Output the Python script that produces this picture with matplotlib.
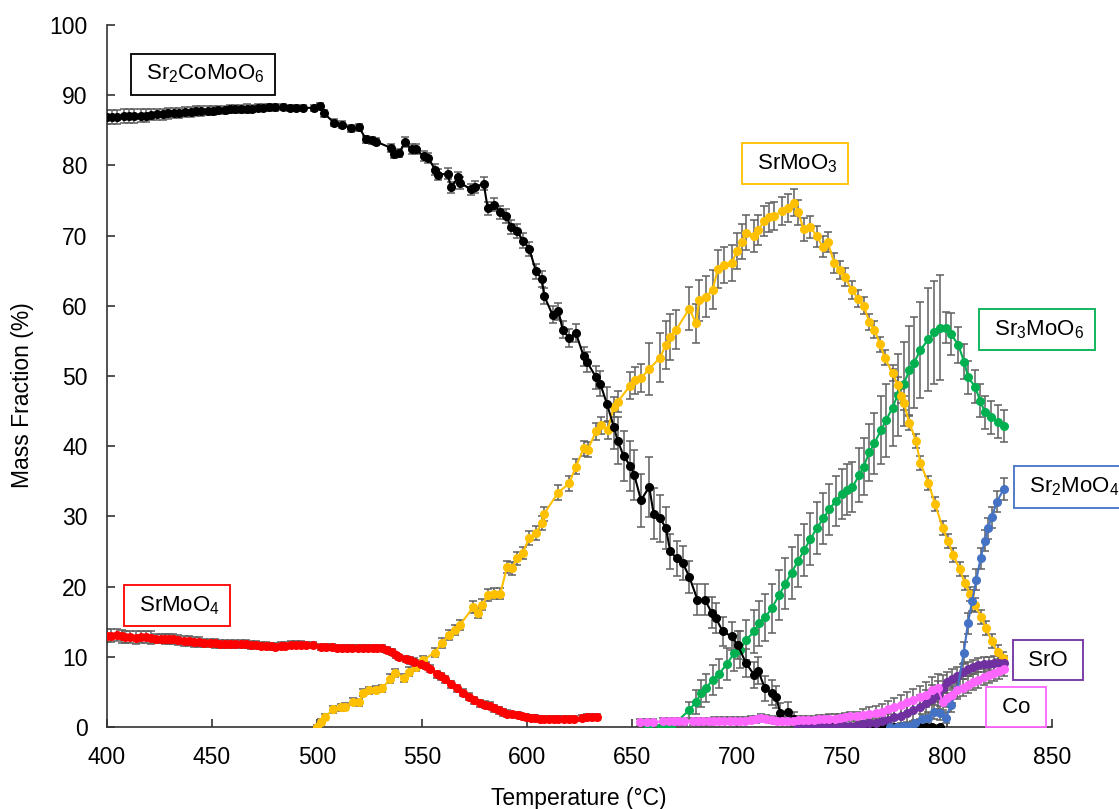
import matplotlib
matplotlib.use('Agg')
import matplotlib.pyplot as plt

plt.rcParams['font.family'] = ['Liberation Sans', 'DejaVu Sans']
plt.rcParams['mathtext.default'] = 'regular'

# Sr2CoMoO6 phase fraction vs temperature
black_T = [400.0, 402.5, 405.0, 408.0, 410.5, 413.0, 416.0, 418.5, 421.0, 424.0,
           426.5, 429.0, 432.0, 434.5, 437.0, 440.0, 442.5, 445.0, 448.0, 450.5,
           453.0, 456.0, 458.5, 461.0, 464.0, 466.5, 469.0, 472.0, 474.5, 477.0,
           480.0, 484.0, 487.0, 490.0, 493.5, 498.5, 501.5, 503.5, 508.0, 512.0,
           516.0, 520.0, 523.5, 526.0, 528.0, 535.2, 536.5, 539.2, 541.9, 545.1,
           547.1, 550.8, 553.0, 556.2, 557.8, 562.2, 563.8, 567.3, 568.2, 573.3,
           575.2, 579.4, 581.3, 584.4, 587.3, 590.0, 592.4, 595.1, 598.2, 601.1,
           604.3, 607.1, 608.2, 612.2, 615.0, 617.0, 620.1, 623.3, 627.0, 628.6,
           632.9, 634.9, 638.1, 641.3, 643.2, 646.0, 649.2, 651.1, 654.3, 658.2,
           660.3, 663.5, 666.2, 668.2, 671.4, 674.1, 677.3, 681.2, 684.8, 687.9,
           690.0, 693.2, 697.5, 700.3, 704.3, 708.2, 710.1, 713.3, 716.5, 718.6,
           720.6, 724.1, 727.3, 730.0, 733.0, 736.0, 739.0, 742.0, 745.0, 748.0,
           751.0, 754.0, 757.0, 760.0, 763.0, 766.0, 769.0, 772.0, 775.0, 778.0,
           781.0, 784.0, 787.0, 790.0, 793.0, 796.5]
black_V = [86.9, 86.9, 86.9, 87.0, 87.0, 87.0, 87.1, 87.1, 87.2, 87.3,
           87.3, 87.4, 87.5, 87.5, 87.6, 87.6, 87.7, 87.7, 87.8, 87.8,
           87.9, 87.9, 88.0, 88.0, 88.0, 88.1, 88.1, 88.2, 88.2, 88.3,
           88.3, 88.3, 88.2, 88.2, 88.2, 88.2, 88.5, 87.4, 86.1, 85.8,
           85.3, 85.4, 83.7, 83.6, 83.4, 82.5, 81.6, 81.8, 83.3, 82.3,
           82.3, 81.3, 81.1, 79.4, 78.7, 78.8, 76.9, 78.3, 77.5, 76.6,
           76.9, 77.4, 73.9, 74.4, 73.3, 72.8, 71.2, 70.6, 69.3, 68.1,
           64.9, 63.8, 61.4, 58.7, 59.2, 56.6, 55.4, 56.1, 52.8, 52.0,
           49.8, 48.9, 46.0, 42.8, 40.8, 38.6, 37.2, 35.9, 32.3, 34.2,
           30.4, 29.7, 28.3, 25.0, 24.0, 23.4, 21.4, 18.1, 18.1, 16.3,
           15.5, 13.6, 12.9, 11.7, 9.1, 7.4, 8.0, 5.5, 4.9, 4.3,
           2.0, 2.2, 1.2, 0.3, 0.0, 0.0, 0.0, 0.0, 0.0, 0.0,
           0.0, 0.0, 0.0, 0.0, 0.0, 0.0, 0.0, 0.0, 0.0, 0.0,
           0.0, 0.0, 0.0, 0.0, 0.0, 0.0]
black_E = [1.0, 1.0, 1.0, 1.0, 1.0, 1.0, 0.9, 0.9, 0.8, 0.8,
           0.8, 0.8, 0.7, 0.7, 0.7, 0.7, 0.7, 0.7, 0.6, 0.6,
           0.6, 0.6, 0.6, 0.6, 0.6, 0.6, 0.5, 0.5, 0.5, 0.5,
           0.5, 0.4, 0.4, 0.4, 0.4, 0.4, 0.4, 0.5, 0.5, 0.5,
           0.5, 0.5, 0.5, 0.5, 0.5, 0.6, 0.6, 0.6, 0.7, 0.7,
           0.7, 0.7, 0.7, 0.8, 0.8, 0.8, 0.8, 0.8, 0.8, 0.8,
           0.9, 0.9, 0.9, 0.9, 0.9, 1.0, 1.0, 1.0, 1.0, 1.0,
           1.1, 1.1, 1.1, 1.2, 1.2, 1.2, 1.3, 1.3, 1.4, 1.4,
           1.6, 1.8, 2.5, 3.2, 3.4, 3.5, 3.6, 3.6, 3.8, 4.3,
           3.6, 3.3, 3.0, 2.5, 2.5, 2.4, 2.3, 2.2, 2.2, 2.2,
           2.1, 2.1, 2.0, 2.0, 2.0, 1.9, 1.9, 1.8, 1.8, 1.6,
           1.4, 1.3, 1.0, 0.5, 0.3, 0.3, 0.3, 0.3, 0.3, 0.3,
           0.3, 0.3, 0.3, 0.3, 0.3, 0.3, 0.3, 0.3, 0.3, 0.3,
           0.3, 0.3, 0.3, 0.3, 0.3, 0.3]

# SrMoO4
red_T = [400.0, 402.0, 404.8, 407.0, 408.7, 411.0, 413.6, 416.0, 418.5, 421.0,
         423.4, 425.5, 427.5, 429.5, 431.6, 434.0, 436.6, 439.0, 441.5, 444.0,
         446.4, 449.0, 451.3, 453.8, 456.2, 458.6, 461.1, 463.6, 466.1, 468.5,
         471.0, 473.5, 475.9, 478.0, 480.0, 483.0, 484.9, 487.4, 489.8, 492.3,
         494.8, 498.0, 502.1, 504.5, 507.0, 509.5, 512.0, 514.5, 516.9, 519.3,
         521.8, 524.3, 526.7, 528.8, 530.8, 533.5, 535.7, 537.5, 539.0, 542.3,
         544.5, 546.4, 549.7, 551.8, 553.8, 557.0, 559.0, 561.1, 564.0, 566.9,
         569.5, 572.6, 575.0, 577.5, 580.0, 582.5, 584.5, 586.6, 588.5, 590.7,
         593.0, 595.6, 597.5, 599.7, 601.8, 603.8, 606.0, 607.9, 610.5, 612.8,
         615.0, 617.7, 620.0, 622.6, 626.0, 628.4, 631.0, 633.3]
red_V = [13.0, 13.0, 13.1, 12.9, 12.8, 12.8, 12.7, 12.8, 12.8, 12.7,
         12.6, 12.6, 12.5, 12.5, 12.5, 12.4, 12.3, 12.2, 12.1, 12.1,
         12.0, 12.0, 11.9, 11.8, 11.8, 11.8, 11.8, 11.8, 11.8, 11.7,
         11.7, 11.6, 11.6, 11.5, 11.4, 11.6, 11.6, 11.7, 11.7, 11.7,
         11.7, 11.7, 11.4, 11.4, 11.4, 11.3, 11.3, 11.3, 11.3, 11.3,
         11.3, 11.3, 11.3, 11.3, 11.3, 11.0, 10.7, 10.2, 9.9, 9.7,
         9.5, 9.3, 9.0, 8.7, 8.3, 7.5, 7.2, 6.8, 6.1, 5.5,
         4.9, 4.3, 3.8, 3.4, 3.2, 3.0, 2.7, 2.4, 2.1, 1.9,
         1.8, 1.7, 1.5, 1.4, 1.3, 1.3, 1.2, 1.2, 1.2, 1.2,
         1.2, 1.2, 1.2, 1.2, 1.3, 1.4, 1.4, 1.4]
red_E = ([0.9] * 10 + [0.7] * 10 + [0.6] * 10 + [0.5] * 10 + [0.4] * 10
         + [0.4] * 10 + [0.5] * 10 + [0.5] * 10 + [0.4] * 10 + [0.4] * 8)

# SrMoO3
yel_T = [500.0, 502.0, 504.0, 507.5, 511.5, 513.5, 517.0, 520.0, 522.0, 525.0,
         528.0, 531.0, 535.0, 537.0, 541.5, 544.0, 547.0, 550.5, 556.0, 559.5,
         563.0, 565.5, 568.0, 574.5, 576.5, 578.8, 581.3, 584.4, 587.3, 590.5,
         592.7, 595.2, 597.9, 601.1, 604.3, 607.0, 608.2, 614.9, 620.1, 623.3,
         627.0, 628.9, 632.9, 635.2, 638.4, 641.3, 643.2, 649.0, 651.3, 654.3,
         658.2, 663.4, 666.0, 668.2, 671.1, 677.3, 680.5, 682.0, 685.2, 688.4,
         691.0, 693.7, 697.5, 700.0, 702.2, 704.3, 708.2, 710.1, 713.0, 715.3,
         717.8, 721.3, 724.1, 727.3, 729.2, 731.7, 734.9, 738.1, 740.8, 743.2,
         746.3, 749.2, 751.4, 754.6, 757.8, 760.3, 763.0, 765.4, 768.2, 770.3,
         774.1, 776.5, 778.1, 779.4, 782.1, 785.2, 787.3, 791.1, 794.3, 798.0,
         800.5, 803.0, 806.0, 808.5, 811.0, 813.3, 816.2, 818.6, 821.3, 824.1,
         826.5]
yel_V = [0.0, 0.7, 1.4, 2.5, 2.8, 2.9, 3.6, 3.5, 4.9, 5.2,
         5.3, 5.5, 6.9, 7.7, 7.0, 7.9, 8.6, 9.5, 10.6, 12.0,
         13.1, 13.8, 14.5, 17.1, 16.3, 17.4, 18.8, 19.0, 19.0, 22.8,
         22.6, 24.0, 24.8, 26.9, 27.6, 29.0, 30.4, 33.4, 34.7, 37.1,
         39.7, 39.5, 42.1, 43.0, 42.3, 45.6, 46.3, 48.6, 49.4, 49.7,
         51.0, 52.6, 54.4, 55.6, 56.6, 59.6, 57.5, 60.8, 61.3, 62.3,
         65.3, 65.8, 66.1, 67.8, 69.1, 70.4, 69.9, 70.8, 72.1, 72.6,
         72.8, 73.5, 73.9, 74.7, 73.3, 70.9, 71.2, 69.9, 68.4, 69.1,
         66.1, 65.1, 64.1, 62.3, 61.0, 60.0, 57.7, 56.6, 54.5, 52.6,
         50.4, 48.7, 47.1, 46.2, 43.3, 40.8, 37.6, 34.8, 31.8, 28.3,
         26.5, 24.5, 22.5, 20.5, 19.0, 17.4, 15.7, 14.1, 12.2, 10.7,
         9.8]
yel_E = [0.3, 0.4, 0.4, 0.5, 0.5, 0.5, 0.5, 0.5, 0.5, 0.5,
         0.5, 0.5, 0.6, 0.6, 0.6, 0.6, 0.6, 0.6, 0.6, 0.7,
         0.7, 0.7, 0.7, 0.8, 0.8, 0.8, 0.8, 0.8, 0.8, 0.9,
         0.9, 0.9, 0.9, 1.0, 1.0, 1.0, 1.0, 1.0, 1.1, 1.1,
         1.1, 1.1, 1.2, 1.2, 1.3, 1.4, 1.5, 1.9, 1.9, 2.0,
         3.7, 3.5, 3.4, 3.3, 2.8, 3.1, 2.8, 2.9, 2.9, 2.8,
         2.7, 2.6, 2.6, 2.6, 2.5, 2.5, 2.3, 2.2, 2.1, 2.1,
         2.0, 2.0, 2.0, 1.9, 1.8, 1.6, 1.6, 1.5, 1.5, 1.4,
         1.4, 1.3, 1.3, 1.3, 1.2, 1.2, 1.2, 1.2, 1.1, 1.1,
         1.1, 1.1, 1.0, 1.0, 1.0, 1.0, 1.0, 1.0, 1.0, 1.0,
         1.0, 1.0, 1.0, 1.0, 1.0, 1.0, 1.0, 1.0, 1.0, 1.0,
         0.9]

# Sr3MoO6
grn_T = [657.4, 663.7, 666.1, 668.5, 677.3, 680.5, 682.9, 685.2, 688.4, 691.6,
         695.2, 698.7, 701.6, 704.3, 708.2, 710.6, 713.3, 716.5, 720.1, 723.0,
         726.0, 729.0, 732.0, 735.0, 738.0, 741.0, 744.0, 747.0, 750.0, 752.5,
         755.0, 758.3, 760.3, 763.0, 765.4, 768.6, 771.0, 774.1, 776.5, 779.4,
         782.1, 784.4, 787.3, 791.1, 794.0, 796.8, 799.5, 801.9, 805.4, 808.2,
         810.1, 813.3, 815.8, 818.1, 821.0, 824.1, 827.0]
grn_V = [0.0, 0.0, 0.0, 0.0, 2.4, 3.6, 4.8, 5.5, 6.7, 7.6,
         9.0, 10.5, 11.0, 12.4, 13.6, 14.8, 15.6, 16.9, 18.8, 20.4,
         22.0, 23.6, 25.2, 26.8, 28.3, 29.7, 31.0, 32.2, 33.2, 33.8,
         34.2, 35.9, 37.1, 39.1, 40.4, 42.3, 43.7, 45.5, 47.3, 48.9,
         50.8, 51.9, 53.7, 55.2, 56.2, 56.9, 56.9, 56.0, 54.4, 52.0,
         49.8, 48.5, 46.5, 44.8, 44.1, 43.5, 42.9]
grn_E = [0.3, 0.3, 0.3, 0.3, 1.2, 1.7, 1.9, 2.0, 2.1, 2.1,
         2.3, 2.5, 2.6, 2.8, 3.0, 3.2, 3.3, 3.5, 3.6, 3.6,
         3.7, 3.7, 3.7, 3.7, 3.7, 3.6, 3.6, 3.6, 3.6, 3.6,
         3.6, 3.8, 4.0, 4.0, 4.3, 4.8, 5.2, 5.5, 5.8, 6.0,
         6.3, 6.5, 6.9, 7.3, 7.4, 7.5, 2.2, 3.0, 2.6, 2.5,
         2.4, 2.4, 2.3, 2.3, 2.3, 2.3, 2.3]

# Sr2MoO4
blu_T = [773.0, 776.0, 779.0, 782.0, 785.0, 788.0, 791.0, 794.0, 796.5, 799.5,
         802.0, 805.0, 808.0, 810.0, 812.0, 814.0, 816.0, 818.0, 819.5, 821.3,
         823.8, 827.0]
blu_V = [0.0, 0.0, 0.1, 0.2, 0.5, 1.1, 1.3, 2.2, 2.0, 1.3,
         3.2, 5.4, 10.6, 14.8, 18.0, 21.0, 24.0, 26.5, 28.3, 29.9,
         32.1, 33.9]
blu_E = [0.3, 0.3, 0.3, 0.4, 0.5, 0.7, 0.8, 1.0, 1.0, 0.8,
         1.0, 1.2, 1.5, 1.5, 1.5, 1.5, 1.5, 1.5, 1.5, 1.5,
         1.5, 1.5]

# SrO
pur_T = [729.0, 731.5, 734.0, 736.5, 739.0, 741.5, 744.0, 746.5, 749.0, 751.5,
         754.0, 757.0, 760.0, 763.0, 766.0, 769.0, 772.0, 775.0, 778.0, 781.0,
         784.0, 787.0, 790.0, 793.0, 795.5, 798.0, 800.0, 802.5, 805.0, 807.5,
         810.0, 812.5, 815.0, 817.5, 820.0, 822.5, 825.0, 827.3]
pur_V = [0.0, 0.0, 0.0, 0.0, 0.0, 0.0, 0.0, 0.0, 0.1, 0.1,
         0.1, 0.3, 0.4, 0.5, 0.6, 0.8, 1.0, 1.4, 1.6, 2.0,
         2.4, 2.9, 3.4, 4.0, 4.6, 5.6, 6.4, 6.9, 7.3, 7.9,
         8.3, 8.6, 8.8, 8.9, 9.0, 9.1, 9.1, 9.1]
pur_E = [0.3, 0.3, 0.3, 0.3, 0.3, 0.3, 0.3, 0.3, 0.3, 0.3,
         0.3, 0.4, 0.5, 0.6, 0.7, 0.8, 0.9, 1.0, 1.1, 1.3,
         1.5, 1.7, 1.9, 2.0, 2.0, 1.8, 1.5, 1.3, 1.2, 1.1,
         1.0, 1.0, 1.0, 1.0, 1.0, 1.0, 1.0, 1.0]

# Co
mag_T = [654.0, 657.0, 660.0, 665.0, 667.5, 670.0, 672.5, 675.0, 679.0, 681.5,
         684.0, 686.5, 689.0, 691.5, 694.0, 696.5, 699.0, 701.5, 704.0, 706.5,
         709.0, 711.5, 714.0, 716.5, 719.0, 721.5, 724.0, 726.5, 729.0, 731.5,
         734.0, 736.5, 739.0, 741.5, 744.0, 746.5, 749.0, 751.5, 754.0, 757.0,
         760.0, 763.0, 766.0, 769.0, 772.0, 775.0, 778.0, 781.0, 784.0, 787.0,
         790.0, 793.0, 795.5, 798.0, 800.0, 802.5, 805.0, 807.5, 810.0, 812.5,
         815.0, 817.5, 820.0, 822.5, 825.0, 827.3]
mag_V = [0.7, 0.7, 0.7, 0.8, 0.8, 0.8, 0.8, 0.8, 0.8, 0.8,
         0.8, 0.8, 0.9, 0.9, 0.9, 0.9, 0.9, 0.9, 0.9, 1.0,
         1.1, 1.3, 1.2, 1.0, 0.9, 0.9, 0.9, 0.9, 1.0, 1.0,
         1.0, 1.0, 1.1, 1.1, 1.2, 1.2, 1.3, 1.4, 1.5, 1.6,
         1.7, 1.9, 2.0, 2.2, 2.5, 2.8, 3.1, 3.5, 3.8, 4.2,
         4.6, 5.2, 5.5, 3.6, 4.1, 4.6, 5.2, 5.6, 6.0, 6.4,
         6.7, 7.1, 7.4, 7.7, 8.0, 8.3]
mag_E = [0.5, 0.5, 0.5, 0.5, 0.5, 0.5, 0.5, 0.5, 0.5, 0.5,
         0.5, 0.5, 0.5, 0.5, 0.5, 0.5, 0.5, 0.5, 0.5, 0.5,
         0.5, 0.5, 0.5, 0.5, 0.5, 0.5, 0.5, 0.5, 0.5, 0.5,
         0.6, 0.6, 0.6, 0.6, 0.6, 0.6, 0.6, 0.6, 0.6, 0.6,
         0.8, 0.9, 1.0, 1.1, 1.2, 1.3, 1.4, 1.5, 1.6, 1.7,
         1.8, 1.9, 2.0, 1.2, 1.2, 1.2, 1.2, 1.2, 1.2, 1.2,
         1.1, 1.1, 1.1, 1.1, 1.1, 1.1]

series = [
    (grn_T, grn_V, grn_E, '#00B050'),
    (yel_T, yel_V, yel_E, '#FFC000'),
    (black_T, black_V, black_E, '#000000'),
    (red_T, red_V, red_E, '#FF0000'),
    (pur_T, pur_V, pur_E, '#7030A0'),
    (blu_T, blu_V, blu_E, '#4472C4'),
    (mag_T, mag_V, mag_E, '#FF66FF'),
]

# phase labels: text, x, y, edge colour
labels = [
    (r' Sr$_2$CoMoO$_6$ ', 445.7, 93.0, '#000000'),
    (r' SrMoO$_4$ ', 433.3, 17.3, '#FF0000'),
    (r' SrMoO$_3$ ', 727.6, 80.3, '#FFC000'),
    (r' Sr$_3$MoO$_6$ ', 842.9, 56.6, '#00B050'),
    (r' Sr$_2$MoO$_4$ ', 859.5, 34.2, '#4472C4'),
    (r' SrO ', 848.1, 9.5, '#7030A0'),
    (r' Co ', 832.9, 2.8, '#FF66FF'),
]

fig = plt.figure(figsize=(11.19, 8.09), dpi=100)
ax = fig.add_axes([0.0956, 0.1014, 0.8445, 0.8677])

for T, V, E, col in series:
    ax.errorbar(T, V, yerr=E, fmt='none', ecolor='#5f5f5f', elinewidth=1.1,
                capsize=3, capthick=1.1, zorder=2)
for T, V, E, col in series:
    ax.plot(T, V, color=col, lw=1.5, marker='o', ms=5.5, mec=col, mfc=col, zorder=3)

for txt, x, y, col in labels:
    ax.text(x, y, txt, fontsize=16, ha='center', va='center', clip_on=False, zorder=10,
            bbox=dict(boxstyle='square,pad=0.42', fc='white', ec=col, lw=1.3))

ax.set_xlim(400, 850)
ax.set_ylim(0, 100)
ax.set_xticks(range(400, 851, 50))
ax.set_yticks(range(0, 101, 10))
ax.spines['top'].set_visible(False)
ax.spines['right'].set_visible(False)
for s in ['left', 'bottom']:
    ax.spines[s].set_linewidth(1.2)
    ax.spines[s].set_color('#333333')
ax.tick_params(axis='both', direction='in', length=6, width=1.2, color='#333333',
               labelsize=16.5)
ax.tick_params(axis='y', pad=14)
ax.tick_params(axis='x', pad=14)

fig.text(579 / 1119, 1 - 798 / 809, 'Temperature (°C)', fontsize=16.5,
         ha='center', va='center')
fig.text(23 / 1119, 1 - 395 / 809, 'Mass Fraction (%)', fontsize=16.5,
         ha='center', va='center', rotation=90)

fig.savefig('out.png', dpi=100)
